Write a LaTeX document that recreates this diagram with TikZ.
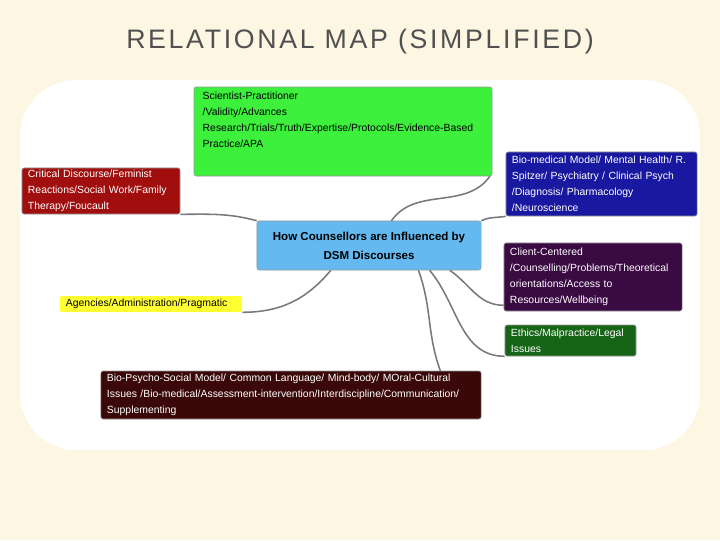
\documentclass[tikz,border=0pt]{standalone}
\usepackage{fontspec}
\setmainfont{Liberation Sans}
\usetikzlibrary{calc,positioning}
\definecolor{bgcream}{RGB}{252,246,226}
\definecolor{titlegray}{RGB}{80,80,80}
\definecolor{linkgray}{RGB}{120,120,125}
\definecolor{cgreen}{RGB}{60,240,60}
\definecolor{cred}{RGB}{160,14,14}
\definecolor{cblue}{RGB}{24,24,160}
\definecolor{ccenter}{RGB}{100,186,240}
\definecolor{cpurple}{RGB}{58,10,66}
\definecolor{cyellow}{RGB}{255,255,50}
\definecolor{cdgreen}{RGB}{22,100,22}
\definecolor{cbrown}{RGB}{58,8,8}
\begin{document}
\begin{tikzpicture}[x=0.025cm,y=-0.025cm,
  box/.style={rectangle, rounded corners=1.5pt, draw=black!40, line width=0.4pt, inner sep=0pt,
    align=left, font=\fontsize{7.4}{11.4}\selectfont, text=white},
  link/.style={draw=linkgray, line width=1.1pt}]
\fill[bgcream] (0,0) rectangle (720,540);
\fill[white] (20,80) [rounded corners=40] rectangle (700,450);
\node[text=titlegray, font=\fontsize{19}{22}\selectfont\addfontfeatures{LetterSpace=10}] (title) at (360,42) {RELATIONAL MAP (SIMPLIFIED)};

\node[box, fill=ccenter, text=black, align=center, minimum width=5.6cm, minimum height=1.225cm,
  font=\bfseries\fontsize{8.2}{13.5}\selectfont] (ctr) at (369,245.5) {How Counsellors are Influenced by\\DSM Discourses};
% green box: text sits at the top
\filldraw[fill=cgreen, draw=black!40, line width=0.4pt, rounded corners=1.5pt] (194,87) rectangle (492,176);
\node[box, draw=none, text=black, anchor=north west, inner xsep=6, inner ysep=3, text width=7.15cm] (sci) at (194,87)
  {Scientist-Practitioner\\/Validity/Advances\\Research/Trials/Truth/Expertise/Protocols/Evidence-Based\\Practice/APA};
\coordinate (scicorner) at (490,176);
\node[box, fill=cred, minimum width=3.95cm, minimum height=1.15cm, text width=3.65cm] (crit) at (101,191)
  {Critical Discourse/Feminist\\Reactions/Social Work/Family\\Therapy/Foucault};
\node[box, fill=cblue, minimum width=4.775cm, minimum height=1.6cm, text width=4.475cm] (bio) at (601.5,184)
  {Bio-medical Model/ Mental Health/ R.\\Spitzer/ Psychiatry / Clinical Psych\\/Diagnosis/ Pharmacology\\/Neuroscience};
\node[box, fill=cpurple, minimum width=4.45cm, minimum height=1.7cm, text width=4.15cm] (client) at (593,277)
  {Client-Centered\\/Counselling/Problems/Theoretical\\orientations/Access to\\Resources/Wellbeing};
\node[box, fill=cyellow, text=black, draw=none, minimum width=4.55cm, minimum height=0.4cm, text width=4.25cm] (agency) at (151,304)
  {Agencies/Administration/Pragmatic};
\node[box, fill=cdgreen, minimum width=3.275cm, minimum height=0.775cm, text width=2.975cm] (ethics) at (570.5,340.5)
  {Ethics/Malpractice/Legal\\Issues};
\node[box, fill=cbrown, minimum width=9.5cm, minimum height=1.2cm, text width=9.2cm] (bps) at (291,395)
  {Bio-Psycho-Social Model/ Common Language/ Mind-body/ MOral-Cultural\\Issues /Bio-medical/Assessment-intervention/Interdiscipline/Communication/\\Supplementing};

% connectors
\draw[link] ($(ctr.north west)!0.6!(ctr.north east)$) to[out=55, in=235] (scicorner);
\draw[link] (ctr.north west) to[out=165, in=0] (crit.south east);
\draw[link] (ctr.north east) to[out=25, in=190] (bio.south west);
\draw[link] ($(ctr.south west)!0.86!(ctr.south east)$) to[out=-35, in=180] ($(client.south west)+(0,-6)$);
\draw[link] ($(ctr.south west)!0.77!(ctr.south east)$) to[out=-50, in=180] (ethics.south west);
\draw[link] ($(ctr.south west)!0.72!(ctr.south east)$) to[out=-70, in=110] ($(bps.north east)+(-41,0)$);
\draw[link] ($(ctr.south west)!0.33!(ctr.south east)$) to[out=-130, in=0] (agency.south east);
\end{tikzpicture}
\end{document}
